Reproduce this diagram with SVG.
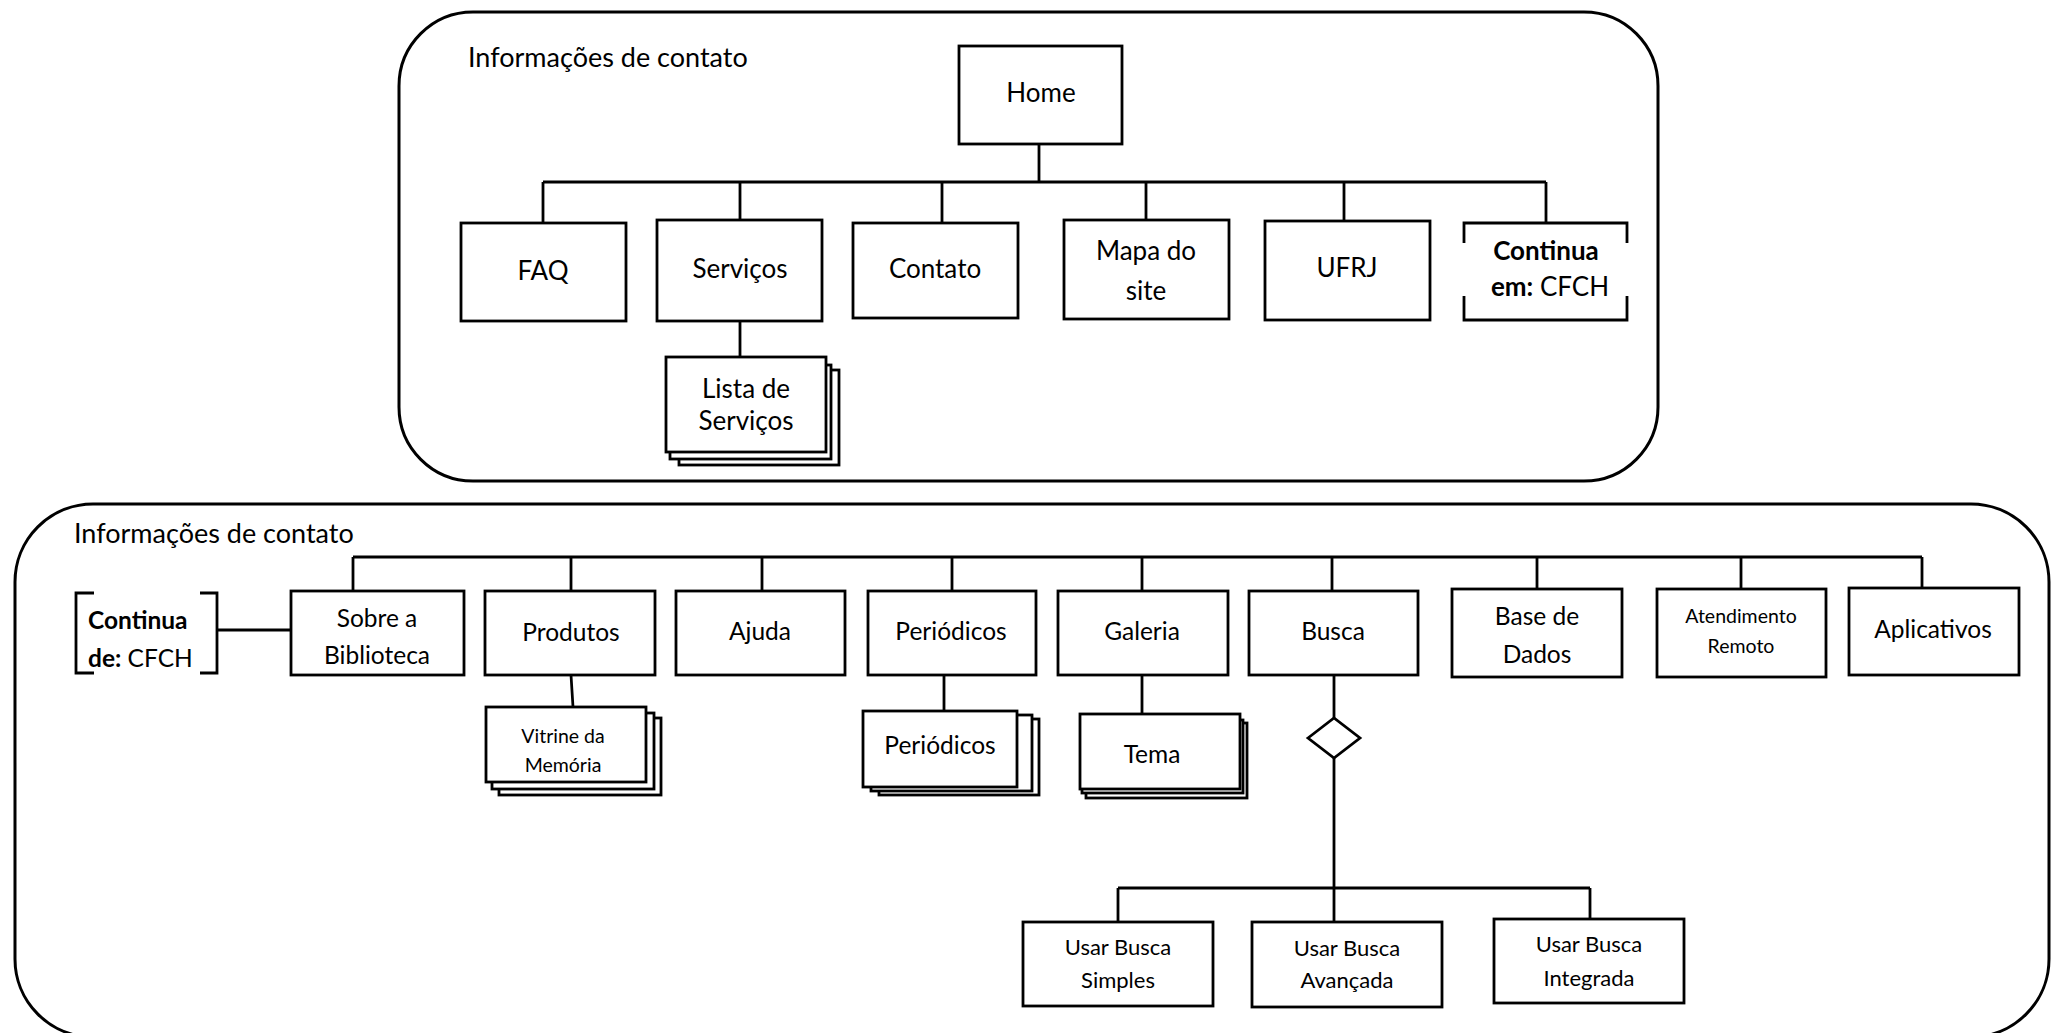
<svg xmlns="http://www.w3.org/2000/svg" width="2051" height="1033" viewBox="0 0 2051 1033">
  <style>
    .frame { fill: none; stroke: #000; stroke-width: 3; }
    .box { fill: #fff; stroke: #000; stroke-width: 2.8; }
    .ln { fill: none; stroke: #000; stroke-width: 2.8; }
    text { font-family: Lato, "Open Sans", "Liberation Sans", sans-serif; fill: #000; }
    .c { text-anchor: middle; }
    .title { font-size: 27px; }
    .top { font-size: 26px; }
    .bot { font-size: 24.5px; }
    .sub { font-size: 22px; }
    .sm { font-size: 19.5px; }
    .b { font-weight: bold; }
  </style>

  <!-- outer regions -->
  <g id="region-top">
    <rect class="frame" x="399" y="12" width="1259" height="469" rx="74" ry="74"/>
    <text class="title" x="468" y="67">Informações de contato</text>
  </g>
  <g id="region-bottom">
    <rect class="frame" x="15" y="504" width="2034" height="533" rx="78" ry="78"/>
    <text class="title" x="74" y="543">Informações de contato</text>
  </g>

  <!-- connectors -->
  <g id="connectors" class="ln">
    <!-- Home tree -->
    <path d="M1039,144 V182"/>
    <path d="M543,182 H1546"/>
    <path d="M543,182 V223"/>
    <path d="M740,182 V220"/>
    <path d="M942,182 V223"/>
    <path d="M1146,182 V220"/>
    <path d="M1344,182 V221"/>
    <path d="M1546,182 V223"/>
    <path d="M740,321 V357"/>
    <!-- second level tree -->
    <path d="M217,630 H291"/>
    <path d="M353,557 H1922"/>
    <path d="M353,557 V595"/>
    <path d="M571,557 V591"/>
    <path d="M762,557 V591"/>
    <path d="M952,557 V591"/>
    <path d="M1142,557 V591"/>
    <path d="M1332,557 V591"/>
    <path d="M1537,557 V589"/>
    <path d="M1741,557 V589"/>
    <path d="M1922,557 V588"/>
    <path d="M571,675 L573,707"/>
    <path d="M944,675 V711"/>
    <path d="M1142,675 V714"/>
    <!-- search options -->
    <path d="M1334,675 V718"/>
    <path d="M1334,758 V922"/>
    <path d="M1118,888 H1590"/>
    <path d="M1118,888 V922"/>
    <path d="M1590,888 V919"/>
  </g>

  <!-- first level -->
  <g id="home">
    <rect class="box" x="959" y="46" width="163" height="98"/>
    <text class="top c" x="1041" y="102">Home</text>
  </g>
  <g id="faq">
    <rect class="box" x="461" y="223" width="165" height="98"/>
    <text class="top c" x="543" y="280">FAQ</text>
  </g>
  <g id="servicos">
    <rect class="box" x="657" y="220" width="165" height="101"/>
    <text class="top c" x="740" y="278">Serviços</text>
  </g>
  <g id="lista-servicos">
    <rect class="box" x="679" y="370" width="160" height="95"/>
    <rect class="box" x="670" y="365" width="161" height="94"/>
    <rect class="box" x="666" y="357" width="160" height="95"/>
    <text class="top c" x="746" y="398">Lista de</text>
    <text class="top c" x="746" y="430">Serviços</text>
  </g>
  <g id="contato">
    <rect class="box" x="853" y="223" width="165" height="95"/>
    <text class="top c" x="935" y="278">Contato</text>
  </g>
  <g id="mapa-site">
    <rect class="box" x="1064" y="220" width="165" height="99"/>
    <text class="top c" x="1146" y="260">Mapa do</text>
    <text class="top c" x="1146" y="300">site</text>
  </g>
  <g id="ufrj">
    <rect class="box" x="1265" y="221" width="165" height="99"/>
    <text class="top c" x="1347" y="277">UFRJ</text>
  </g>
  <g id="continua-em">
    <path class="ln" d="M1464,243 V223 H1627 V243 M1464,296 V320 H1627 V296"/>
    <text class="top c b" x="1546" y="260">Continua</text>
    <text class="top c" x="1550" y="296"><tspan class="b">em:</tspan> CFCH</text>
  </g>

  <!-- second level -->
  <g id="continua-de">
    <path class="ln" d="M94,593 H76 V673 H94 M200,593 H217 V673 H200"/>
    <text class="bot b" x="88" y="629">Continua</text>
    <text class="bot" x="88" y="667"><tspan class="b">de:</tspan> CFCH</text>
  </g>
  <g id="sobre">
    <rect class="box" x="291" y="591" width="173" height="84"/>
    <text class="bot c" x="377" y="627">Sobre a</text>
    <text class="bot c" x="377" y="664">Biblioteca</text>
  </g>
  <g id="produtos">
    <rect class="box" x="485" y="591" width="170" height="84"/>
    <text class="bot c" x="571" y="641">Produtos</text>
  </g>
  <g id="vitrine">
    <rect class="box" x="499" y="718" width="162" height="77"/>
    <rect class="box" x="492" y="713" width="162" height="76"/>
    <rect class="box" x="486" y="707" width="160" height="75"/>
    <text class="sm c" x="563" y="743">Vitrine da</text>
    <text class="sm c" x="563" y="772">Memória</text>
  </g>
  <g id="ajuda">
    <rect class="box" x="676" y="591" width="169" height="84"/>
    <text class="bot c" x="760" y="640">Ajuda</text>
  </g>
  <g id="periodicos">
    <rect class="box" x="868" y="591" width="168" height="84"/>
    <text class="bot c" x="951" y="640">Periódicos</text>
  </g>
  <g id="periodicos-lista">
    <rect class="box" x="879" y="719" width="160" height="76"/>
    <rect class="box" x="871" y="715" width="161" height="76"/>
    <rect class="box" x="863" y="711" width="154" height="76"/>
    <text class="bot c" x="940" y="754">Periódicos</text>
  </g>
  <g id="galeria">
    <rect class="box" x="1058" y="591" width="170" height="84"/>
    <text class="bot c" x="1142" y="640">Galeria</text>
  </g>
  <g id="tema">
    <rect class="box" x="1086" y="723" width="161" height="75"/>
    <rect class="box" x="1082" y="720" width="161" height="73"/>
    <rect class="box" x="1080" y="714" width="160" height="75"/>
    <text class="bot c" x="1152" y="763">Tema</text>
  </g>
  <g id="busca">
    <rect class="box" x="1249" y="591" width="169" height="84"/>
    <text class="bot c" x="1333" y="640">Busca</text>
    <polygon class="box" points="1308,738 1334,718 1360,738 1334,758"/>
  </g>
  <g id="base-dados">
    <rect class="box" x="1452" y="589" width="170" height="88"/>
    <text class="bot c" x="1537" y="625">Base de</text>
    <text class="bot c" x="1537" y="663">Dados</text>
  </g>
  <g id="atendimento">
    <rect class="box" x="1657" y="589" width="169" height="88"/>
    <text class="sm c" x="1741" y="623">Atendimento</text>
    <text class="sm c" x="1741" y="653">Remoto</text>
  </g>
  <g id="aplicativos">
    <rect class="box" x="1849" y="588" width="170" height="87"/>
    <text class="bot c" x="1933" y="638">Aplicativos</text>
  </g>

  <!-- search options -->
  <g id="busca-simples">
    <rect class="box" x="1023" y="922" width="190" height="84"/>
    <text class="sub c" x="1118" y="955">Usar Busca</text>
    <text class="sub c" x="1118" y="988">Simples</text>
  </g>
  <g id="busca-avancada">
    <rect class="box" x="1252" y="922" width="190" height="85"/>
    <text class="sub c" x="1347" y="956">Usar Busca</text>
    <text class="sub c" x="1347" y="988">Avançada</text>
  </g>
  <g id="busca-integrada">
    <rect class="box" x="1494" y="919" width="190" height="84"/>
    <text class="sub c" x="1589" y="952">Usar Busca</text>
    <text class="sub c" x="1589" y="986">Integrada</text>
  </g>
</svg>
